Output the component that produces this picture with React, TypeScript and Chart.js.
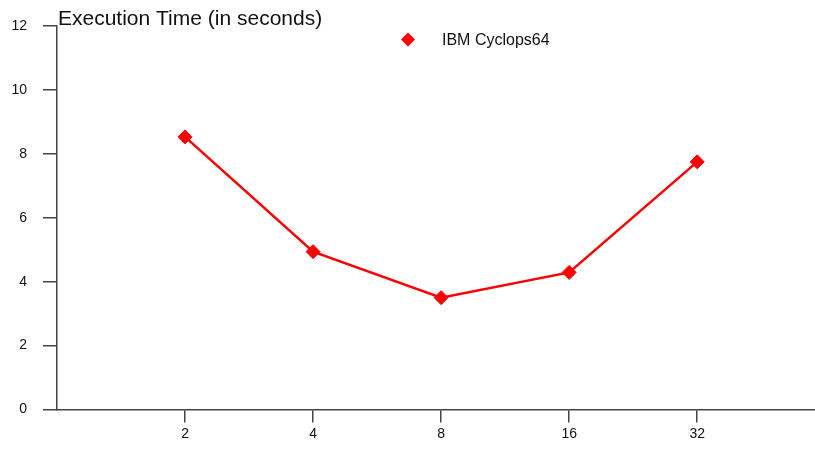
import React, { useEffect, useRef } from "react";
import { Chart, registerables } from "chart.js";

Chart.register(...registerables);

// Processor counts on the x axis and measured run times
const processorLabels = ["2", "4", "8", "16", "32"];
const cyclopsTimes = [8.53, 4.94, 3.5, 4.29, 7.75];
const seriesName = "IBM Cyclops64";
const chartTitle = "Execution Time (in seconds)";
const yTicks = [0, 2, 4, 6, 8, 10, 12];

const RED = "#ff0000";
const AXIS = "#444444";
const TEXT = "#111111";
const FONT = "Liberation Sans, Arial, sans-serif";

// Title in the top-left corner and a single legend entry near the top centre
const overlayPlugin = {
  id: "overlay",
  afterDraw(chart: any) {
    const ctx = chart.ctx as CanvasRenderingContext2D;
    const area = chart.chartArea;
    ctx.save();
    ctx.fillStyle = TEXT;
    ctx.font = `21px ${FONT}`;
    ctx.textAlign = "left";
    ctx.textBaseline = "alphabetic";
    ctx.fillText(chartTitle, area.left + 1, 25);

    // legend marker
    const lx = 408;
    const ly = 39.5;
    const r = 7;
    ctx.fillStyle = RED;
    ctx.beginPath();
    ctx.moveTo(lx, ly - r);
    ctx.lineTo(lx + r, ly);
    ctx.lineTo(lx, ly + r);
    ctx.lineTo(lx - r, ly);
    ctx.closePath();
    ctx.fill();

    ctx.fillStyle = TEXT;
    ctx.font = `16px ${FONT}`;
    ctx.textBaseline = "middle";
    ctx.fillText(seriesName, 442, 41);
    ctx.restore();
  },
};

export default function App() {
  const canvasRef = useRef<HTMLCanvasElement | null>(null);

  useEffect(() => {
    if (!canvasRef.current) return;
    const points = cyclopsTimes.map((v, i) => ({ x: i + 1, y: v }));
    const chart = new Chart(canvasRef.current, {
      type: "line",
      data: {
        datasets: [
          {
            label: seriesName,
            data: points,
            borderColor: RED,
            backgroundColor: RED,
            borderWidth: 2.5,
            pointStyle: "rectRot",
            pointRadius: 7,
            pointBorderWidth: 1,
            pointBorderColor: RED,
            pointBackgroundColor: RED,
            tension: 0,
          },
        ],
      },
      options: {
        animation: false,
        responsive: false,
        maintainAspectRatio: false,
        layout: { autoPadding: false, padding: { top: 26, right: 0, left: 0, bottom: 0 } },
        plugins: {
          legend: { display: false },
          title: { display: false },
          tooltip: { enabled: false },
        },
        scales: {
          x: {
            type: "linear",
            min: 0,
            max: 5.92,
            afterBuildTicks: (scale: any) => {
              scale.ticks = processorLabels.map((_, i) => ({ value: i + 1 }));
            },
            afterFit: (scale: any) => {
              scale.height = 40.5;
            },
            ticks: {
              autoSkip: false,
              maxRotation: 0,
              padding: 3,
              color: TEXT,
              font: { family: FONT, size: 14 },
              callback: (v: any) => processorLabels[Number(v) - 1] ?? "",
            },
            grid: {
              drawOnChartArea: false,
              drawTicks: true,
              tickLength: 13,
              color: AXIS,
              lineWidth: 1.5,
            },
            border: { display: true, color: AXIS, width: 1.5 },
          },
          y: {
            min: 0,
            max: 12,
            afterBuildTicks: (scale: any) => {
              scale.ticks = yTicks.map((v) => ({ value: v }));
            },
            afterFit: (scale: any) => {
              scale.width = 57;
            },
            ticks: {
              padding: 16,
              color: TEXT,
              font: { family: FONT, size: 14 },
            },
            grid: {
              drawOnChartArea: false,
              drawTicks: true,
              tickLength: 14,
              color: AXIS,
              lineWidth: 1.5,
            },
            border: { display: true, color: AXIS, width: 1.5 },
          },
        },
      },
      plugins: [overlayPlugin],
    } as any);
    return () => chart.destroy();
  }, []);

  return (
    <div style={{ position: "fixed", left: 0, top: 0, width: 815, height: 450, background: "#fff" }}>
      <canvas ref={canvasRef} width={815} height={450} style={{ width: 815, height: 450 }} />
    </div>
  );
}
